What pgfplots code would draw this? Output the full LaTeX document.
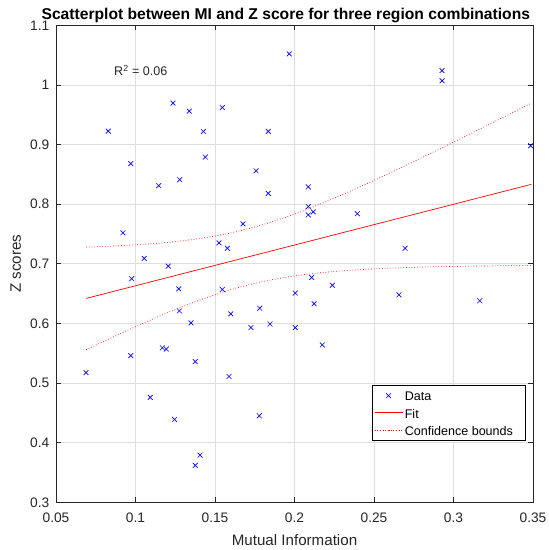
\documentclass[border=0pt]{standalone}
\usepackage{pgfplots}
\pgfplotsset{compat=1.18}
\usepackage{fontspec}
\setmainfont{Liberation Sans}
\definecolor{tickgray}{rgb}{0.15,0.15,0.15}
\definecolor{gridgray}{rgb}{0.87,0.87,0.87}
\definecolor{fitred}{rgb}{1,0,0}
\begin{document}
\begin{tikzpicture}[x=1bp,y=1bp]
\useasboundingbox (-56bp,-47.7bp) rectangle (493bp,502.3bp);
\begin{axis}[
  scale only axis,
  width=477bp, height=477bp,
  xmin=0.05, xmax=0.35, ymin=0.3, ymax=1.1,
  xtick={0.05,0.1,0.15,0.2,0.25,0.3,0.35},
  ytick={0.3,0.4,0.5,0.6,0.7,0.8,0.9,1.0,1.1},
  xticklabels={0.05,0.1,0.15,0.2,0.25,0.3,0.35},
  yticklabels={0.3,0.4,0.5,0.6,0.7,0.8,0.9,1,1.1},
  grid=major,
  major grid style={gridgray, line width=0.6bp},
  axis line style={tickgray, line width=0.7bp},
  tick style={tickgray, line width=0.7bp},
  major tick length=5bp,
  tick align=inside,
  ticklabel style={font=\fontsize{13.8}{16}\selectfont, text=tickgray},
  xticklabel style={anchor=north, inner sep=0pt, yshift=-10.5bp},
  yticklabel style={anchor=east, inner sep=0pt, xshift=-6.5bp},
  xlabel={Mutual Information},
  ylabel={Z scores},
  label style={font=\fontsize{15.2}{18}\selectfont, text=tickgray, inner sep=0pt},
  xlabel style={at={(axis description cs:0.5,-0.0901)}, anchor=base},
  ylabel style={at={(axis description cs:-0.0734,0.5)}, anchor=base, rotate=0},
  every axis title shift=0pt,
  title={\textbf{Scatterplot between MI and Z score for three region combinations}},
  title style={font=\fontsize{15.7}{18}\selectfont, inner sep=0pt, at={(axis description cs:0.4818,1.0126)}, anchor=base},
  legend image code/.code={\draw[mark repeat=2,mark phase=2,#1] plot coordinates {(0bp,0bp) (14bp,0bp) (28bp,0bp)};},
  legend style={at={(0.9853,0.1285)}, anchor=south east, font=\fontsize{12.6}{15}\selectfont,
    line width=0.6bp, inner xsep=2bp, inner ysep=3.75bp, row sep=5bp,
    nodes={inner xsep=1.7bp, inner ysep=0pt, text height=11.5bp, text depth=1bp}},
  legend cell align=left,
]
\addplot[only marks, mark=x, mark size=3.4bp, color=blue, mark options={draw=blue, line width=0.65bp}] coordinates {
(0.0829,0.9225) (0.1967,1.052) (0.1236,0.9695) (0.1338,0.956) (0.1427,0.922)
(0.1546,0.962) (0.1835,0.922) (0.0970,0.868) (0.1439,0.879) (0.1146,0.831)
(0.1278,0.841) (0.1758,0.856) (0.1835,0.818) (0.0921,0.752) (0.1676,0.767)
(0.1525,0.735) (0.1578,0.726) (0.1055,0.709) (0.1206,0.696)
(0.2928,1.024) (0.2928,1.007) (0.3485,0.898) (0.2087,0.829) (0.2087,0.796)
(0.2087,0.782) (0.2118,0.787) (0.2395,0.784) (0.2695,0.726)
(0.0689,0.5175) (0.0976,0.675) (0.1272,0.658) (0.1276,0.621) (0.1349,0.601)
(0.1546,0.657) (0.1599,0.616) (0.1781,0.6255) (0.1726,0.593) (0.1846,0.599)
(0.2005,0.651) (0.2005,0.593) (0.0970,0.546) (0.1169,0.559) (0.1194,0.557)
(0.1376,0.536) (0.1588,0.511) (0.1093,0.476) (0.1246,0.439) (0.1779,0.445)
(0.1406,0.379) (0.1376,0.362)
(0.2108,0.677) (0.2238,0.664) (0.2123,0.633) (0.2175,0.564) (0.2657,0.648)
(0.3165,0.638)
};
\addlegendentry{Data}
\addplot[draw=fitred, color=fitred, line width=0.7bp,
  legend image code/.code={\draw[draw=fitred, line width=1.1bp] (0bp,0.3bp) -- (28bp,0.3bp);}] coordinates {(0.069,0.642) (0.349,0.8333)};
\addlegendentry{Fit}
\addplot[draw=fitred, color=fitred, dotted, line width=0.7bp, smooth] coordinates {
(0.069,0.7280) (0.08,0.7291) (0.10,0.7318) (0.12,0.7358) (0.14,0.7422)
(0.16,0.7518) (0.18,0.7656) (0.20,0.7833) (0.22,0.8044) (0.24,0.8276)
(0.26,0.8523) (0.28,0.8779) (0.30,0.9040) (0.32,0.9306) (0.34,0.9574) (0.349,0.9696)
};
\addlegendentry{Confidence bounds\hspace*{9bp}}
\addplot[draw=fitred, color=fitred, dotted, line width=0.7bp, smooth, forget plot] coordinates {
(0.069,0.5560) (0.08,0.5699) (0.10,0.5946) (0.12,0.6178) (0.14,0.6388)
(0.16,0.6566) (0.18,0.6702) (0.20,0.6797) (0.22,0.6860) (0.24,0.6900)
(0.26,0.6927) (0.28,0.6945) (0.30,0.6956) (0.32,0.6964) (0.34,0.6968) (0.349,0.6970)
};
\node[anchor=west, font=\fontsize{12.6}{15}\selectfont, text=tickgray, inner sep=0pt] at (axis cs:0.0865,1.0245) {R\textsuperscript{2} = 0.06};
\end{axis}
\end{tikzpicture}
\end{document}
